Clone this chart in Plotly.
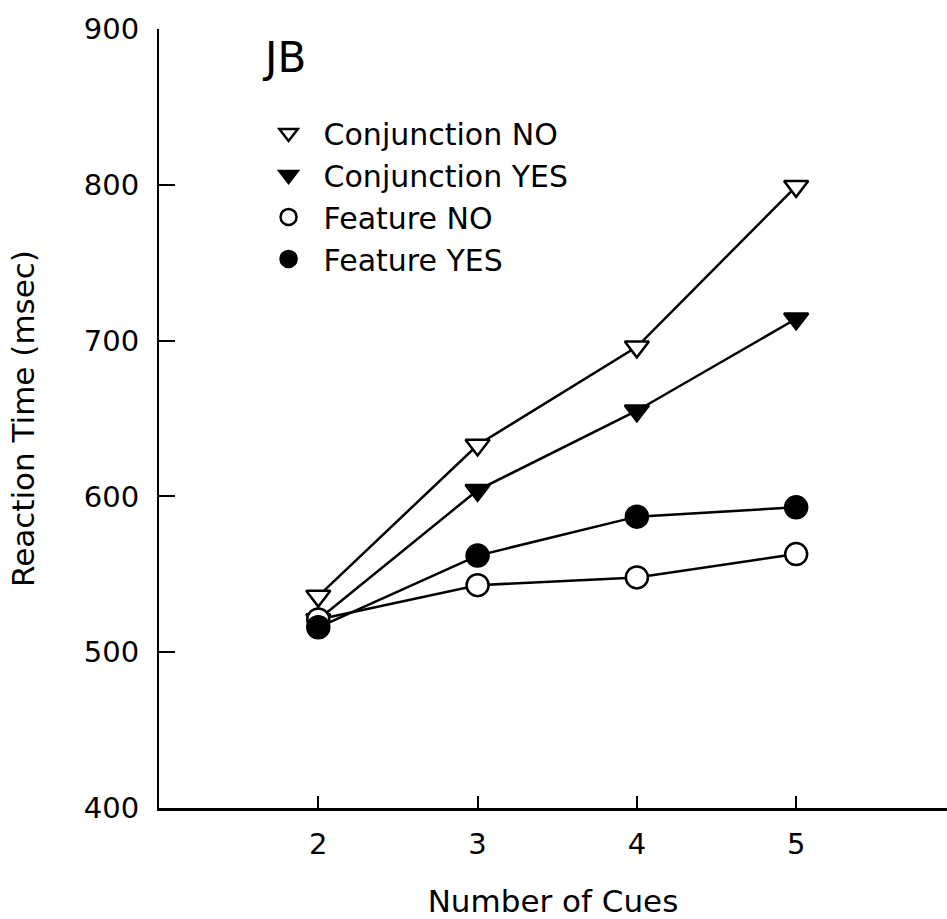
import plotly.graph_objects as go

# Number of cues shown on each trial
cues = [2, 3, 4, 5]

# Mean reaction times (msec) for each condition
conj_no = [536, 633, 696, 799]
conj_yes = [521, 604, 655, 714]
feat_no = [521, 543, 548, 563]
feat_yes = [516, 562, 587, 593]

series = [
    ("Conjunction NO", conj_no, "triangle-down", "white", 21),
    ("Conjunction YES", conj_yes, "triangle-down", "black", 21),
    ("Feature NO", feat_no, "circle", "white", 22),
    ("Feature YES", feat_yes, "circle", "black", 22),
]

FONT = "DejaVu Sans"

fig = go.Figure()
# connecting lines first, so the symbols sit on top of them
for name, vals, sym, fill, size in series:
    fig.add_trace(go.Scatter(
        x=cues, y=vals, mode="lines", showlegend=False, hoverinfo="skip",
        line=dict(color="black", width=2.5),
    ))
# symbols (these also make up the legend)
for name, vals, sym, fill, size in series:
    fig.add_trace(go.Scatter(
        x=cues, y=vals, name=name, mode="markers",
        marker=dict(symbol=sym, size=size, color=fill,
                    line=dict(color="black", width=2.5)),
    ))

fig.update_layout(
    width=947, height=919,
    margin=dict(l=159, r=0, t=29, b=111),
    paper_bgcolor="white", plot_bgcolor="white",
    font=dict(family=FONT, size=28, color="black"),
    showlegend=True,
    legend=dict(
        x=0.12, y=0.9, xanchor="left", yanchor="top",
        bgcolor="rgba(0,0,0,0)", borderwidth=0,
        font=dict(family=FONT, size=30, color="black"),
        itemwidth=60, tracegroupgap=0,
    ),
    annotations=[dict(
        text="JB", x=0.159, y=0.963, xref="paper", yref="paper",
        xanchor="center", yanchor="middle",
        showarrow=False, font=dict(family=FONT, size=42, color="black"),
    )],
)

fig.update_xaxes(
    range=[1, 5.947], tickvals=cues, ticktext=[str(c) for c in cues],
    showgrid=False, zeroline=False,
    showline=True, linecolor="black", linewidth=3,
    ticks="inside", ticklen=12, tickwidth=1.5, tickcolor="black",
    tickfont=dict(family=FONT, size=29), ticklabelstandoff=8,
    title=dict(text="Number of Cues", font=dict(family=FONT, size=31), standoff=38),
)
fig.update_yaxes(
    range=[400, 900], tickvals=[400, 500, 600, 700, 800, 900],
    showgrid=False, zeroline=False,
    showline=True, linecolor="black", linewidth=2,
    ticks="inside", ticklen=16, tickwidth=2, tickcolor="black",
    tickfont=dict(family=FONT, size=29), ticklabelstandoff=12,
    title=dict(text="Reaction Time (msec)", font=dict(family=FONT, size=31), standoff=40),
)

fig.write_html("out.html")
